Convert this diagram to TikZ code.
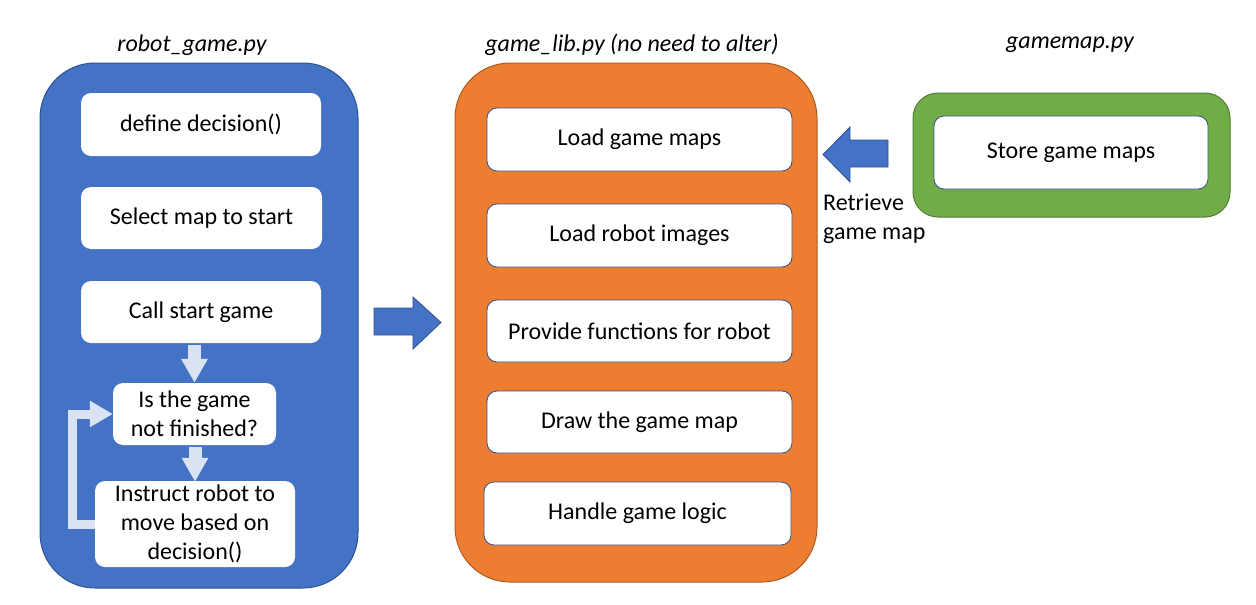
\documentclass[tikz,border=0pt]{standalone}
\usepackage{fontspec}
\setmainfont{Carlito}
\usetikzlibrary{arrows.meta}
\definecolor{pyblue}{HTML}{4472C4}
\definecolor{pyblueline}{HTML}{2F528F}
\definecolor{pyorange}{HTML}{ED7D31}
\definecolor{pyorangeline}{HTML}{AE5A21}
\definecolor{pygreen}{HTML}{70AD47}
\definecolor{pygreenline}{HTML}{507E32}
\definecolor{pylight}{HTML}{DAE3F3}
\tikzset{
  panel/.style={rounded corners=55, line width=1pt, inner sep=0},
  stepbox/.style={fill=white, rounded corners=10, align=center, inner sep=0,
    font=\fontsize{24}{29}\selectfont},
  libbox/.style={stepbox, draw=pyblueline, line width=0.8pt},
  filetitle/.style={font=\fontsize{24}{29}\selectfont\itshape},
  blockarrow/.style={fill=pyblue, draw=pyblueline, line width=0.8pt},
  flowarrow/.style={draw=pylight, line width=13pt, -{Triangle[length=24pt,width=25pt]}},
  looparrow/.style={draw=pylight, line width=9pt, -{Triangle[length=23pt,width=25pt]}}
}
\begin{document}
\begin{tikzpicture}[x=1pt,y=-1pt]
  \useasboundingbox (0,0) rectangle (1256,605);
  % robot_game.py
  \node[filetitle] (robottitle) at (192,45) {robot\_game.py};
  \node[panel, fill=pyblue, draw=pyblueline, minimum width=318, minimum height=525] (robotpanel) at (199,325.5) {};
  \node[stepbox, minimum width=240, minimum height=63] (define) at (201,124.5) {define decision()};
  \node[stepbox, minimum width=241, minimum height=62] (select) at (201.5,218) {Select map to start};
  \node[stepbox, minimum width=240, minimum height=62] (call) at (201,312) {Call start game};
  \node[stepbox, minimum width=163, minimum height=62] (notdone) at (194.5,414) {Is the game\\not finished?};
  \node[stepbox, minimum width=200, minimum height=86] (instruct) at (195,524) {Instruct robot to\\move based on\\decision()};
  \draw[flowarrow] ([yshift=-2]call.south -| notdone.north) -- (notdone.north);
  \draw[flowarrow] ([yshift=-2]notdone.south -| instruct.north) -- ([yshift=-1]instruct.north);
  \coordinate (loopbot) at (72,524);
  \coordinate (looptop) at (72,414);
  \draw[looparrow] (instruct.west |- loopbot) -- (loopbot) -- (looptop) -- (notdone.west |- looptop);
  % game_lib.py
  \node[filetitle] (libtitle) at (632,45) {game\_lib.py (no need to alter)};
  \node[panel, fill=pyorange, draw=pyorangeline, minimum width=362, minimum height=519] (libpanel) at (636,322.5) {};
  \node[libbox, minimum width=305, minimum height=63] (loadmaps) at (639.5,139.5) {Load game maps};
  \node[libbox, minimum width=305, minimum height=63] (loadimgs) at (639.5,235.5) {Load robot images};
  \node[libbox, minimum width=305, minimum height=62] (funcs) at (639.5,331) {Provide functions for robot};
  \node[libbox, minimum width=305, minimum height=62] (drawmap) at (639.5,422) {Draw the game map};
  \node[libbox, minimum width=307, minimum height=63] (logic) at (637.5,513.5) {Handle game logic};
  % gamemap.py
  \node[filetitle] (maptitle) at (1070,45) {gamemap.py};
  \node[panel, rounded corners=25, fill=pygreen, draw=pygreenline, minimum width=317, minimum height=124] (mappanel) at (1071.5,155) {};
  \node[libbox, minimum width=274, minimum height=73] (store) at (1071,152.5) {Store game maps};
  % block arrows
  \filldraw[blockarrow] (374,308) -- (413,308) -- (413,297) -- (441,322.5) -- (413,349) -- (413,335) -- (374,335) -- cycle;
  \filldraw[blockarrow] (888,140) -- (850,140) -- (850,127) -- (823,154.5) -- (850,182) -- (850,167) -- (888,167) -- cycle;
  \node[anchor=north west, align=left, inner sep=0, font=\fontsize{24}{29}\selectfont] (retrieve) at (823,194) {Retrieve\\game map};
\end{tikzpicture}
\end{document}
